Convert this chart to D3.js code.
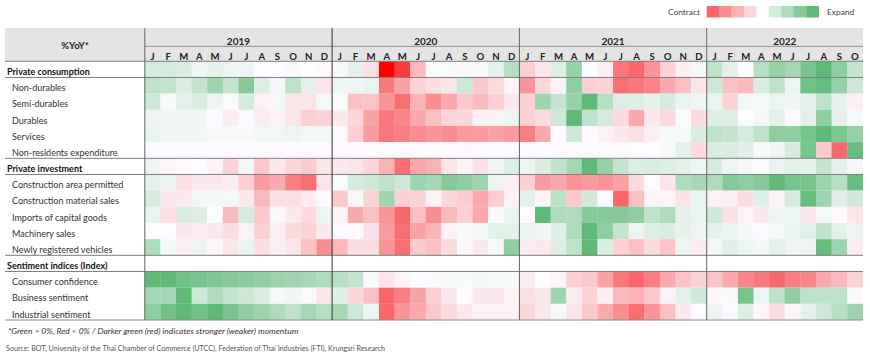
<!DOCTYPE html>
<html>
<head>
<meta charset="utf-8">
<script src="https://d3js.org/d3.v7.min.js"></script>
<style>
html, body { margin: 0; padding: 0; background: #fff; }
svg { display: block; font-family: Lato, sans-serif; }
</style>
</head>
<body>
<div id="chart"></div>
<script>
var years = ["2019", "2020", "2021", "2022"];
var yearMonths = [12, 12, 12, 10];
var monthLetters = ["J", "F", "M", "A", "M", "J", "J", "A", "S", "O", "N", "D"];
var legendValues = [-100, -75, -50, -25, 0, 25, 50, 75, 100];

// momentum, -100 = full red, 100 = full green, below -100 is the one hotter cell
var privateConsumption = [25, 25, 22, 8, 14, 10, 10, 0, 0, 3, 0, -2, 3, 15, -18, -135, -115, -45, 2, 3, 4, 3, 15, 45, -30, -15, 20, 65, 0, -8, -90, -100, -70, -28, -8, 6, 40, 17, 0, 45, 65, 55, 85, 100, 70, 35];
var nonDurables = [40, 35, 22, 35, 60, 35, 75, 20, 6, 40, 15, -15, 8, 8, 12, -90, -60, -28, -20, -15, 30, -35, -22, -5, -70, -25, -7, 70, -30, -28, -95, -90, -80, -55, -40, -15, 30, -40, -45, 22, 40, 10, 90, 95, 65, 30];
var semiDurables = [30, 4, 15, 22, 10, 2, 25, -7, 5, -15, -15, 5, 2, -40, -38, -70, -95, -50, -75, -55, -35, -45, -30, -13, -30, 60, 35, 65, 100, 45, 20, 20, 14, 25, 12, 8, 12, -27, 6, 5, 10, 8, 15, 40, 15, -8];
var durables = [10, 8, 8, 8, 1, -10, 1, -10, -7, -15, -30, -28, -12, -25, -60, -90, -80, -55, -40, -25, -25, -6, -6, 10, -30, -22, 30, 100, 40, 25, -22, -55, -12, -22, 2, -22, 20, 20, 0, 6, 15, 1, 17, 70, 15, 4];
var services = [12, 8, 8, 8, 4, 4, 4, 7, 7, 10, 6, 6, 2, -30, -65, -90, -85, -75, -70, -75, -65, -65, -60, -65, -85, -55, 0, 30, -1, -6, -12, -18, -8, 4, 4, 22, 40, 35, 25, 40, 70, 70, 85, 100, 80, 65];
var nonResidents = [-1, -1, -1, -1, -1, -1, -1, -1, -1, -1, -1, -1, -1, -1, -1, -1, -1, -1, -1, -1, -1, -1, -1, -1, -1, -1, -1, -1, -1, 2, -2, 0, 0, 4, 15, -22, 22, 22, 18, 3, 8, 25, 85, -35, -100, 95];
var privateInvestment = [10, -5, -2, 0, -7, -28, 7, -35, -12, -25, -32, -15, -12, -15, -25, -50, -95, -55, -50, -15, -5, -17, 8, 20, 10, 22, 38, 55, 100, 65, 35, 20, 22, 20, 15, 10, 25, 10, 6, 1, 12, 15, 14, 35, 15, 6];
var constructionArea = [15, 12, -18, -12, -13, -8, -30, -65, -55, -85, -95, -15, 2, 25, 30, 40, 30, 60, 55, 75, 70, 60, 10, -8, -30, -65, -55, -70, -65, -70, -60, -22, 0, -15, 50, 55, 50, 75, 70, 75, 100, 85, 85, 60, 45, 95];
var constructionMaterial = [25, -12, -12, 6, 6, 5, -12, -45, -18, -18, -10, 1, -35, 3, -28, 60, -30, -28, -7, -25, -32, -55, -32, -7, 15, -4, 42, -35, 28, 1, -100, -40, -5, -5, -17, 12, -7, -8, -20, 18, -7, 25, 95, 60, 18, 28];
var capitalGoods = [12, -18, 22, 20, 0, -45, 25, -35, -3, -13, -22, 10, -7, -55, -40, -70, -100, -40, -75, -45, -30, -55, -3, 12, 0, 100, 50, 50, 75, 75, 75, 70, 40, 50, 15, 12, 28, -17, -5, -12, 10, 10, -13, 5, -2, -15];
var machinery = [0, 0, -12, -10, -13, -20, -6, -30, -8, -22, -28, -12, 1, 1, -17, -65, -95, -60, -50, -6, 3, 6, 17, 16, 12, 8, 18, 50, 100, 70, 35, 10, 20, 22, 14, 10, 15, 12, 6, 1, 5, 12, 17, 38, 15, 10];
var vehicles = [50, 6, -8, 10, -4, -15, 12, -20, -8, -15, -40, -75, -45, -20, -20, -70, -95, -35, -40, -22, -3, -12, 4, 70, -10, -13, 20, 40, 100, 22, -30, -40, -22, -38, 10, -10, 6, 18, 10, 6, 15, 8, 10, 95, 60, -10];
var consumerConfidence = [100, 100, 90, 85, 80, 75, 72, 68, 62, 58, 55, 50, 45, 35, 3, -15, -5, 1, 3, 5, 3, 6, 5, 3, -10, 0, -5, -30, -35, -60, -90, -100, -85, -55, -38, -28, -38, -55, -80, -90, -100, -85, -80, -55, -45, -28];
var businessSentiment = [55, 55, 100, 30, 50, 35, 30, 22, 5, 8, 1, -15, 18, -25, -40, -100, -85, -60, -30, -13, 0, -13, -13, -6, -18, -13, 60, -10, -28, -8, -45, -50, -35, -5, 15, 28, -3, 3, 85, 10, 40, 70, 40, 40, 40, 3];
var industrialSentiment = [70, 90, 100, 90, 100, 85, 70, 60, 50, 40, 55, 45, 55, 30, 10, -100, -70, -55, -35, -22, -13, -6, -6, -7, -25, -13, 4, -15, -35, -55, -75, -95, -70, -40, -12, 0, 10, 1, 20, -5, -20, -4, 15, 30, 45, 60];

var rows = [
    { name: "Private consumption", head: true, values: privateConsumption },
    { name: "Non-durables", values: nonDurables },
    { name: "Semi-durables", values: semiDurables },
    { name: "Durables", values: durables },
    { name: "Services", values: services },
    { name: "Non-residents expenditure", values: nonResidents },
    { name: "Private investment", head: true, values: privateInvestment },
    { name: "Construction area permitted", values: constructionArea },
    { name: "Construction material sales", values: constructionMaterial },
    { name: "Imports of capital goods", values: capitalGoods },
    { name: "Machinery sales", values: machinery },
    { name: "Newly registered vehicles", values: vehicles },
    { name: "Sentiment indices (Index)", head: true, values: [] },
    { name: "Consumer confidence", values: consumerConfidence },
    { name: "Business sentiment", values: businessSentiment },
    { name: "Industrial sentiment", values: industrialSentiment }
];

var svg = d3.select("#chart")
    .append("svg")
    .attr("width", 870)
    .attr("height", 356);

var monthKeys = d3.range(d3.sum(yearMonths));

var x = d3.scaleBand()
    .domain(monthKeys)
    .range([144.8, 862.8]);

var y = d3.scaleBand()
    .domain(rows.map(function (d) { return d.name; }))
    .range([61.3, 320]);

var color = d3.scaleLinear()
    .domain([-135, -100, 0, 100])
    .range(["#ff0000", "#f8686b", "#fcfbff", "#5fba78"])
    .clamp(true);

// header block
svg.append("rect")
    .attr("x", 5)
    .attr("y", 28)
    .attr("width", 858)
    .attr("height", 33.3)
    .attr("fill", "#e4e4e4");

// cells
var rowG = svg.append("g")
    .selectAll("g")
    .data(rows)
    .enter().append("g")
    .attr("transform", function (d) { return "translate(0," + y(d.name) + ")"; });

rowG.selectAll("rect")
    .data(function (d) { return d.values; })
    .enter().append("rect")
    .attr("x", function (d, i) { return x(i); })
    .attr("y", 0)
    .attr("width", x.bandwidth() + 0.3)
    .attr("height", y.bandwidth())
    .attr("fill", function (d) { return color(d); });

// row names
rowG.append("text")
    .attr("x", function (d) { return d.head ? 7 : 12; })
    .attr("y", y.bandwidth() / 2 + 2.4)
    .attr("dy", "0.36em")
    .attr("font-size", function (d) { return d.head ? "9px" : "9px"; })
    .attr("font-weight", function (d) { return d.head ? 700 : 400; })
    .attr("fill", function (d) { return d.head ? "#111" : "#333"; })
    .text(function (d) { return d.name; });

// month letters
var monthAxis = d3.axisTop(x)
    .tickSize(0)
    .tickPadding(0)
    .tickFormat(function (d) {
        return monthLetters[d % 12];
    });

svg.append("g")
    .attr("transform", "translate(0,60)")
    .call(monthAxis)
    .call(function (g) { g.select(".domain").remove(); })
    .selectAll("text")
    .attr("dy", "0em")
    .attr("font-family", "Lato, sans-serif")
    .attr("font-size", "9.6px")
    .attr("font-weight", 700)
    .attr("fill", "#222");

// years
var yearStart = [];
var running = 0;
yearMonths.forEach(function (n) {
    yearStart.push(running);
    running = running + n;
});

svg.append("g")
    .selectAll("text")
    .data(years)
    .enter().append("text")
    .attr("x", function (d, i) {
        return x(yearStart[i]) + x.bandwidth() * yearMonths[i] / 2;
    })
    .attr("y", 44.5)
    .attr("text-anchor", "middle")
    .attr("font-size", "10px")
    .attr("font-weight", 700)
    .attr("fill", "#222")
    .text(function (d) { return d; });

svg.append("text")
    .attr("x", 75)
    .attr("y", 48.5)
    .attr("text-anchor", "middle")
    .attr("font-size", "9.6px")
    .attr("font-weight", 700)
    .attr("fill", "#222")
    .text("%YoY*");

// rules
var ruleRows = ["Private consumption", "Non-durables", "Private investment", "Construction area permitted", "Sentiment indices (Index)", "Consumer confidence"];

svg.append("g")
    .selectAll("line")
    .data(ruleRows)
    .enter().append("line")
    .attr("x1", 5)
    .attr("x2", 863)
    .attr("y1", function (d) { return y(d); })
    .attr("y2", function (d) { return y(d); })
    .attr("stroke", "#7f7f7f")
    .attr("stroke-width", 1);

svg.append("line")
    .attr("x1", 5)
    .attr("x2", 863)
    .attr("y1", 320)
    .attr("y2", 320)
    .attr("stroke", "#8c8c8c")
    .attr("stroke-width", 1.2);

svg.append("line")
    .attr("x1", 144.8)
    .attr("x2", 863)
    .attr("y1", 46.3)
    .attr("y2", 46.3)
    .attr("stroke", "#8c8c8c")
    .attr("stroke-width", 1);

svg.append("g")
    .selectAll("line")
    .data(yearStart)
    .enter().append("line")
    .attr("x1", function (d) { return x(d); })
    .attr("x2", function (d) { return x(d); })
    .attr("y1", 28)
    .attr("y2", 320)
    .attr("stroke", function (d, i) { return i == 1 ? "#333" : "#666"; })
    .attr("stroke-width", 1);

// legend
var legendX = d3.scaleBand()
    .domain(legendValues)
    .range([706.7, 818.7]);

svg.append("g")
    .selectAll("rect")
    .data(legendValues)
    .enter().append("rect")
    .attr("x", function (d) { return legendX(d); })
    .attr("y", 6)
    .attr("width", legendX.bandwidth() + 0.3)
    .attr("height", 11.5)
    .attr("fill", function (d) { return color(d); });

svg.append("text")
    .attr("x", 700)
    .attr("y", 14.5)
    .attr("text-anchor", "end")
    .attr("font-size", "8.4px")
    .attr("fill", "#444")
    .text("Contract");

svg.append("text")
    .attr("x", 827)
    .attr("y", 14.5)
    .attr("font-size", "8.4px")
    .attr("fill", "#444")
    .text("Expand");

// notes
svg.append("text")
    .attr("x", 8)
    .attr("y", 334)
    .attr("font-size", "8.5px")
    .attr("font-style", "italic")
    .attr("fill", "#333")
    .text("*Green > 0%, Red < 0% / Darker green (red) indicates stronger (weaker) momentum");

svg.append("text")
    .attr("x", 6)
    .attr("y", 351)
    .attr("font-size", "7.2px")
    .attr("fill", "#555")
    .text("Source: BOT, University of the Thai Chamber of Commerce (UTCC), Federation of Thai Industries (FTI), Krungsri Research");
</script>
</body>
</html>
